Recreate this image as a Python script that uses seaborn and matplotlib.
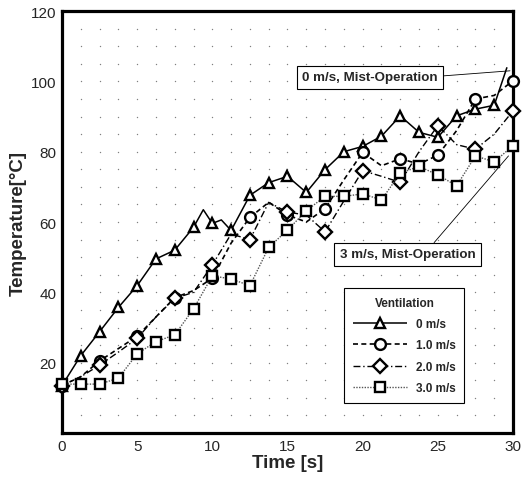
import numpy as np
import pandas as pd
import matplotlib
matplotlib.use("Agg")
import matplotlib.pyplot as plt
import matplotlib.ticker as mticker
import seaborn as sns

# --- data ---
TIME = [0, 1.25, 2.5, 3.75, 5, 6.25, 7.5, 8.75, 10, 11.25, 12.5, 13.75, 15,
        16.25, 17.5, 18.75, 20, 21.25, 22.5, 23.75, 25, 26.25, 27.5, 28.75, 30]

# 0 m/s has a few extra kinks between markers
TIME_0 = [0, 1.25, 2.5, 3.75, 5, 6.25, 7.5, 8.75, 9.4, 10, 10.6, 11.25, 12.5,
          13.75, 15, 16.25, 17.5, 18.75, 20, 21.25, 22.5, 23.75, 25, 26.25,
          27.5, 28.75, 29.6]
TEMP_0 = [13.5, 22.0, 28.8, 35.7, 41.9, 49.5, 52.0, 58.5, 63.5, 59.6, 60.6,
          57.6, 67.6, 71.2, 73.0, 68.4, 74.9, 80.0, 81.5, 84.4, 90.2, 85.5,
          84.1, 90.2, 92.1, 93.2, 104.0]
TEMP_1 = [13.5, 16.0, 20.5, 24.0, 27.5, 33.0, 38.5, 40.5, 44.0, 54.0, 61.3,
          65.6, 62.0, 60.0, 63.8, 72.0, 79.8, 76.0, 78.0, 76.5, 79.0, 86.0,
          95.0, 96.0, 100.2]
TEMP_2 = [13.5, 16.0, 19.3, 23.0, 26.9, 33.0, 38.3, 40.0, 47.8, 56.6, 55.0,
          65.6, 62.8, 62.0, 57.2, 66.0, 74.6, 73.0, 71.3, 80.0, 87.4, 82.0,
          80.7, 85.0, 91.6]
TEMP_3 = [13.9, 13.9, 13.9, 15.6, 22.5, 26.0, 27.9, 35.3, 44.7, 43.8, 41.9,
          52.8, 57.7, 63.2, 67.3, 67.3, 68.0, 66.3, 73.9, 75.8, 73.4, 70.3,
          78.8, 77.1, 81.7]

LABELS = ["0 m/s", "1.0 m/s", "2.0 m/s", "3.0 m/s"]

sns.set_style("white")
plt.rcParams["font.family"] = ["Liberation Sans", "DejaVu Sans"]

fig = plt.figure(figsize=(5.32, 4.81), dpi=100)
ax = fig.add_axes([0.1165, 0.0977, 0.8478, 0.8773])

series = [
    (TIME_0, TEMP_0, "^", (0, ()), 1.25, 1.1, "black"),
    (TIME, TEMP_1, "o", (0, (3, 2)), 2.5, 1.2, "black"),
    (TIME, TEMP_2, "D", (0, (5, 2, 1, 2)), 2.5, 1.0, "black"),
    (TIME, TEMP_3, "s", (0, (1, 1)), 1.25, 1.0, "#555555"),
]

handles = []
for (t, temp, mk, ls, step, lw, col), lab in zip(series, LABELS):
    t = np.asarray(t, dtype=float)
    every = list(np.where(np.isclose(t / step, np.round(t / step)))[0])
    df = pd.DataFrame({"t": t, "T": temp})
    sns.lineplot(data=df, x="t", y="T", ax=ax, color=col, linestyle=ls,
                 linewidth=lw, marker=mk, markevery=every,
                 markersize=7.8 if mk != "D" else 6.8,
                 markerfacecolor="white", markeredgecolor="black",
                 markeredgewidth=1.7, clip_on=False, zorder=3)
    handles.append(ax.lines[-1])

# dotted grid at minor tick intersections
gx, gy = np.meshgrid(np.arange(0, 30.01, 1.25), np.arange(0, 120.01, 5))
ax.scatter(gx.ravel(), gy.ravel(), s=1.0, color="#808080", linewidths=0, zorder=1)

ax.set_xlim(0, 30)
ax.set_ylim(0, 120)
ax.xaxis.set_major_locator(mticker.MultipleLocator(5))
ax.xaxis.set_minor_locator(mticker.MultipleLocator(1.25))
ax.set_yticks([20, 40, 60, 80, 100, 120])
ax.yaxis.set_minor_locator(mticker.MultipleLocator(5))
ax.tick_params(which="major", direction="in", length=7, width=1.8,
               labelsize=11, pad=4, top=False, right=False)
ax.tick_params(which="minor", direction="in", length=4, width=1.0,
               top=False, right=False)
for sp in ax.spines.values():
    sp.set_linewidth(2.3)
    sp.set_color("black")

ax.set_xlabel("Time [s]", fontsize=13.5, fontweight="bold", labelpad=1)
ax.set_ylabel("Temperature[°C]", fontsize=13.5, fontweight="bold", labelpad=3)

box = dict(boxstyle="square,pad=0.4", facecolor="white", edgecolor="black", linewidth=0.8)
ax.annotate("0 m/s, Mist-Operation", xy=(29.8, 103), xytext=(20.5, 101.1),
            ha="center", va="center", fontsize=9.6, fontweight="bold", bbox=box,
            arrowprops=dict(arrowstyle="-", lw=0.6, color="black", relpos=(1, 0.6),
                            shrinkA=0, shrinkB=0), zorder=5)
ax.annotate("3 m/s, Mist-Operation", xy=(29.7, 78.8), xytext=(22.98, 50.8),
            ha="center", va="center", fontsize=9.6, fontweight="bold", bbox=box,
            arrowprops=dict(arrowstyle="-", lw=0.6, color="black", relpos=(0.66, 1),
                            shrinkA=0, shrinkB=0), zorder=5)

leg = ax.legend(handles, LABELS, title="Ventilation", loc="upper left",
                bbox_to_anchor=(0.626, 0.343), fontsize=8.5, title_fontsize=8.5,
                handlelength=4.6, labelspacing=0.8, borderpad=0.7,
                handletextpad=0.8, borderaxespad=0,
                fancybox=False, framealpha=1, edgecolor="black")
leg.get_title().set_fontweight("bold")
for txt in leg.get_texts():
    txt.set_fontweight("bold")
leg.get_frame().set_linewidth(0.8)
leg.set_zorder(6)

fig.savefig("out.png", dpi=100)
